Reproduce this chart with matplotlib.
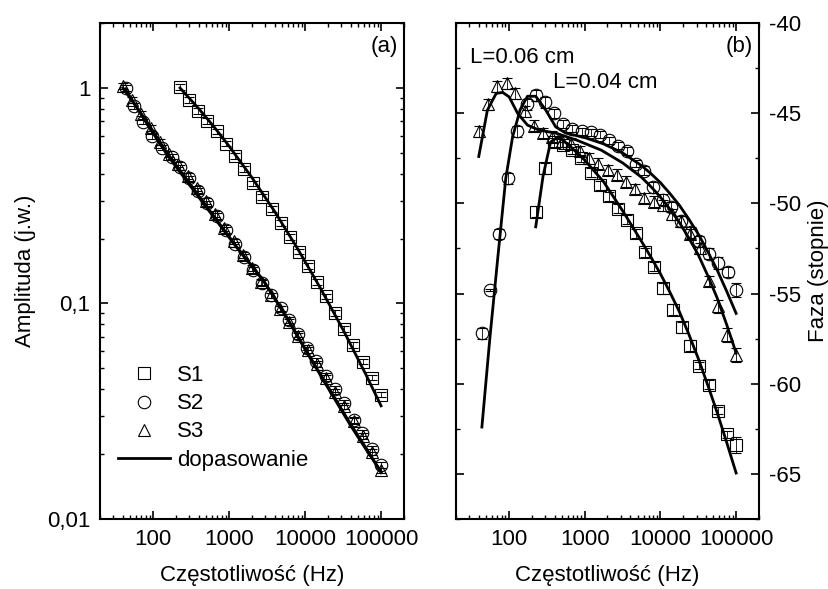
import numpy as np
import matplotlib.pyplot as plt
from matplotlib.lines import Line2D
from matplotlib.ticker import LogLocator, FixedLocator, FixedFormatter, MultipleLocator, NullFormatter

plt.rcParams['font.family'] = ['Liberation Sans', 'DejaVu Sans']
plt.rcParams['font.size'] = 16
plt.rcParams['axes.unicode_minus'] = False

# frequencies (Hz)
f_s1 = [226, 298, 394, 518, 689, 908, 1200, 1574, 2089, 2742, 3631, 4786, 6310, 8337,
        10890, 14521, 19055, 24831, 32734, 43251, 57544, 75858, 100000]
f_s2 = [44, 56, 74, 96, 129, 175, 226, 300, 394, 518, 689, 912, 1200, 1574, 2089, 2742,
        3597, 4786, 6166, 8091, 10715, 13804, 18621, 25119, 32359, 44157, 56885, 76913, 100000]
f_s3 = [40, 53, 70, 93, 122, 162, 214, 284, 375, 496, 656, 868, 1149, 1520, 2010, 2659,
        3517, 4653, 6155, 8141, 10770, 14245, 18844, 24927, 32974, 43619, 57700, 76326, 100000]

# (a) amplitude
amp_s1 = [1.01, 0.877, 0.783, 0.703, 0.628, 0.552, 0.482, 0.421, 0.361, 0.313, 0.274, 0.236,
          0.203, 0.174, 0.149, 0.126, 0.108, 0.0906, 0.0764, 0.0644, 0.0538, 0.0453, 0.0378]
amp_s2 = [1.0, 0.826, 0.698, 0.600, 0.529, 0.480, 0.428, 0.380, 0.334, 0.291, 0.254, 0.219,
          0.188, 0.164, 0.1426, 0.1245, 0.109, 0.095, 0.0838, 0.0724, 0.0624, 0.0543, 0.0462,
          0.0401, 0.0347, 0.0289, 0.0251, 0.0212, 0.0178]
amp_s3 = [1.02, 0.88, 0.76, 0.65, 0.56, 0.495, 0.442, 0.39, 0.342, 0.298, 0.26, 0.224, 0.194,
          0.168, 0.146, 0.126, 0.109, 0.0945, 0.082, 0.0705, 0.061, 0.0525, 0.0452, 0.039,
          0.0335, 0.0285, 0.0243, 0.0205, 0.0168]
amp_err_rel = 0.03

fit_a1_f = [226, 398, 631, 1000, 1995, 3981, 7943, 15849, 31623, 63096, 100000]
fit_a1 = [1.0, 0.802, 0.661, 0.537, 0.384, 0.267, 0.180, 0.118, 0.0755, 0.0468, 0.0335]
fit_a2_f = [43, 79, 151, 316, 631, 1259, 2818, 5623, 11220, 21380, 39811, 63096, 100000]
fit_a2 = [0.989, 0.700, 0.493, 0.347, 0.251, 0.182, 0.128, 0.0871, 0.0575, 0.0395, 0.0275,
          0.0214, 0.0164]
fit_a3_f = [40, 79, 151, 316, 631, 1259, 2818, 5623, 11220, 21380, 39811, 63096, 100000]
fit_a3 = [1.0, 0.715, 0.503, 0.353, 0.254, 0.183, 0.128, 0.087, 0.0572, 0.039, 0.0271,
          0.0211, 0.0166]

# (b) phase (degrees)
ph_s1 = [-50.46, -48.06, -46.6, -46.77, -47.05, -47.5, -48.3, -49.0, -49.6, -50.3, -50.9,
         -51.66, -52.7, -53.5, -54.7, -55.9, -56.87, -57.9, -59.0, -60.06, -61.5, -62.8, -63.4]
ph_s2 = [-57.2, -54.8, -51.7, -48.6, -46.0, -44.5, -44.0, -44.4, -45.0, -45.6, -45.85, -46.0,
         -46.05, -46.2, -46.5, -46.8, -47.1, -47.8, -48.2, -49.1, -49.8, -50.2, -51.0, -51.6,
         -52.1, -52.8, -53.3, -53.8, -54.8]
ph_s3 = [-46.0, -44.5, -43.5, -43.35, -43.9, -44.9, -45.7, -46.1, -46.3, -46.55, -46.7, -47.1,
         -47.5, -47.8, -48.15, -48.4, -48.8, -49.2, -49.7, -49.9, -50.1, -50.6, -51.0, -51.7,
         -52.5, -54.3, -55.7, -57.3, -58.4]
err_s1 = [0.3, 0.3, 0.25, 0.2, 0.2, 0.2, 0.25, 0.25, 0.25, 0.25, 0.25, 0.25, 0.25, 0.25, 0.3,
          0.3, 0.3, 0.3, 0.2, 0.25, 0.2, 0.2, 0.45]
err_s2 = [0.3, 0.05, 0.3, 0.3, 0.3, 0.3, 0.3, 0.3, 0.25, 0.2, 0.2, 0.2, 0.2, 0.2, 0.2, 0.2,
          0.2, 0.2, 0.25, 0.3, 0.3, 0.3, 0.3, 0.3, 0.3, 0.3, 0.35, 0.3, 0.4]
err_s3 = [0.3, 0.3, 0.3, 0.3, 0.3, 0.3, 0.3, 0.3, 0.3, 0.3, 0.3, 0.3, 0.3, 0.3, 0.3, 0.3,
          0.3, 0.3, 0.3, 0.3, 0.3, 0.3, 0.3, 0.3, 0.3, 0.3, 0.35, 0.4, 0.4]

fit_p1_f = [226, 282, 355, 447, 631, 1000, 1778, 3162, 5623, 7499, 10000, 13335, 17783,
            23714, 31623, 42170, 56234, 74989, 100000]
fit_p1 = [-51.3, -48.5, -46.6, -46.3, -46.8, -47.6, -48.8, -50.4, -52.1, -52.98, -53.9,
          -54.92, -56.0, -57.25, -58.6, -60.07, -61.6, -63.25, -64.95]
fit_p2_f = [44, 56, 71, 91, 112, 141, 176, 226, 307, 415, 562, 1000, 1778, 3162, 5623, 7499,
            10000, 13335, 17783, 23714, 31623, 42170, 56234, 74989, 100000]
fit_p2 = [-62.4, -57.5, -53.1, -48.6, -46.3, -44.8, -44.06, -44.06, -44.83, -45.76, -46.1,
          -46.35, -46.7, -47.2, -47.9, -48.35, -48.85, -49.45, -50.1, -50.87, -51.7, -52.67,
          -53.7, -54.87, -56.1]
fit_p3_f = [40, 52, 68, 83, 101, 130, 176, 251, 415, 794, 1660, 3162, 5623, 7499, 10000,
            13335, 17783, 23714, 31623, 42170, 56234, 74989, 100000]
fit_p3 = [-47.4, -44.83, -43.9, -43.85, -44.1, -45.0, -45.66, -45.94, -46.1, -46.5, -47.05,
          -47.75, -48.55, -49.07, -49.65, -50.32, -51.05, -51.92, -52.85, -54.0, -55.25,
          -56.72, -58.3]

fig = plt.figure(figsize=(8.29, 5.89), dpi=100)
ax1 = fig.add_axes([0.1206, 0.1188, 0.3667, 0.8421])
ax2 = fig.add_axes([0.55, 0.1188, 0.3655, 0.8421])

mk = dict(ls='none', mfc='none', mec='k', ms=9, mew=0.8, ecolor='k',
          elinewidth=0.6, capsize=3.5, capthick=0.6)

# panel (a)
ax1.errorbar(f_s1, amp_s1, yerr=np.array(amp_s1) * amp_err_rel, marker='s', **mk)
ax1.errorbar(f_s2, amp_s2, yerr=np.array(amp_s2) * amp_err_rel, marker='o', **mk)
ax1.errorbar(f_s3, amp_s3, yerr=np.array(amp_s3) * amp_err_rel, marker='^', **mk)
ax1.plot(fit_a1_f, fit_a1, 'k-', lw=2)
ax1.plot(fit_a2_f, fit_a2, 'k-', lw=2)
ax1.plot(fit_a3_f, fit_a3, 'k-', lw=2)

ax1.set_xscale('log')
ax1.set_yscale('log')
ax1.set_xlim(20, 2e5)
ax1.set_ylim(0.01, 2)
ax1.yaxis.set_major_locator(FixedLocator([0.01, 0.1, 1]))
ax1.yaxis.set_major_formatter(FixedFormatter(['0,01', '0,1', '1']))
ax1.yaxis.set_minor_locator(LogLocator(base=10, subs=np.arange(2, 10), numticks=20))
ax1.yaxis.set_minor_formatter(NullFormatter())
ax1.set_ylabel('Amplituda (j.w.)', labelpad=8)
ax1.text(0.98, 0.952, '(a)', transform=ax1.transAxes, ha='right', va='center')

handles = [Line2D([], [], ls='none', marker='s', mfc='none', mec='k', ms=9, mew=0.8),
           Line2D([], [], ls='none', marker='o', mfc='none', mec='k', ms=9, mew=0.8),
           Line2D([], [], ls='none', marker='^', mfc='none', mec='k', ms=9, mew=0.8),
           Line2D([], [], color='k', lw=2)]
ax1.legend(handles, ['S1', 'S2', 'S3', 'dopasowanie'], loc='upper left',
           bbox_to_anchor=(0.06, 0.31), frameon=False, borderpad=0, borderaxespad=0,
           handlelength=2.35, handletextpad=0.3, labelspacing=0.32)

# panel (b)
ax2.errorbar(f_s1, ph_s1, yerr=err_s1, marker='s', **mk)
ax2.errorbar(f_s2, ph_s2, yerr=err_s2, marker='o', **mk)
ax2.errorbar(f_s3, ph_s3, yerr=err_s3, marker='^', **mk)
ax2.plot(fit_p1_f, fit_p1, 'k-', lw=2)
ax2.plot(fit_p2_f, fit_p2, 'k-', lw=2)
ax2.plot(fit_p3_f, fit_p3, 'k-', lw=2)

ax2.set_xscale('log')
ax2.set_xlim(20, 2e5)
ax2.set_ylim(-67.5, -40)
ax2.yaxis.set_major_locator(MultipleLocator(5))
ax2.yaxis.set_minor_locator(MultipleLocator(2.5))
ax2.yaxis.set_label_position('right')
ax2.set_ylabel('Faza (stopnie)', labelpad=5)
ax2.text(0.98, 0.952, '(b)', transform=ax2.transAxes, ha='right', va='center')
ax2.text(0.046, 0.931, 'L=0.06 cm', transform=ax2.transAxes, ha='left', va='center')
ax2.text(0.32, 0.881, 'L=0.04 cm', transform=ax2.transAxes, ha='left', va='center')

for ax in (ax1, ax2):
    ax.xaxis.set_major_locator(FixedLocator([100, 1000, 10000, 100000]))
    ax.xaxis.set_major_formatter(FixedFormatter(['100', '1000', '10000', '100000']))
    ax.xaxis.set_minor_locator(LogLocator(base=10, subs=np.arange(2, 10), numticks=20))
    ax.xaxis.set_minor_formatter(NullFormatter())
    ax.set_xlabel('Częstotliwość (Hz)', labelpad=11)
    ax.tick_params(which='both', direction='in', top=True, right=True, left=True)
    ax.tick_params(which='major', length=6, width=1.2, pad=7)
    ax.tick_params(which='minor', length=3, width=1.0)
    for sp in ax.spines.values():
        sp.set_linewidth(1.5)

ax2.tick_params(axis='y', labelleft=False, labelright=True)

fig.savefig('out.png', dpi=100)
